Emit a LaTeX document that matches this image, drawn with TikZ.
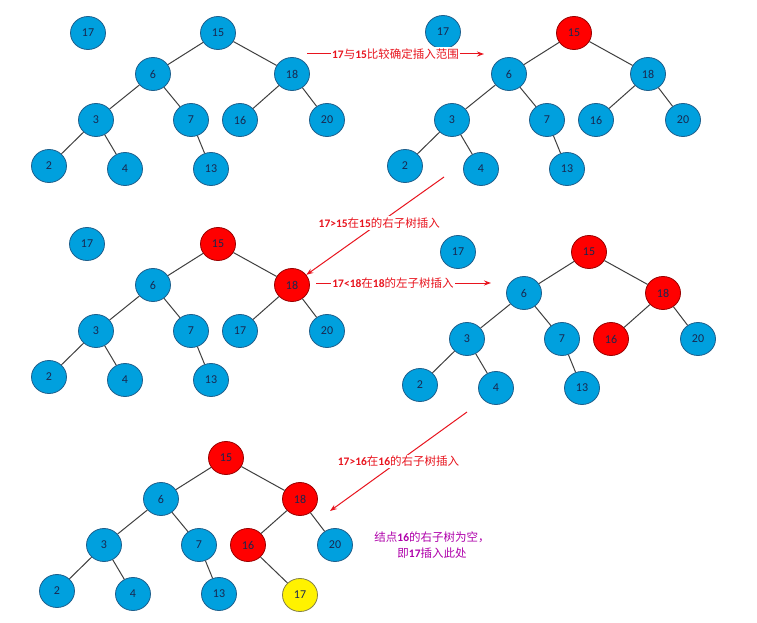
\documentclass[tikz,border=0pt]{standalone}
\usepackage{fontspec}
\setmainfont{Carlito}
\newfontfamily\carl{Carlito}
\newfontfamily\cjk{Noto Sans CJK SC}
\usetikzlibrary{shapes.geometric,arrows.meta}
\definecolor{nblue}{RGB}{0,160,222}
\definecolor{nborder}{RGB}{30,95,140}
\definecolor{ntext}{RGB}{25,40,80}
\definecolor{edgec}{RGB}{64,64,64}
\definecolor{lred}{RGB}{232,20,30}
\definecolor{lpurp}{RGB}{175,0,170}
\tikzset{
 nd/.style={ellipse, minimum width=35pt, minimum height=33pt, inner sep=0pt, draw=nborder, fill=nblue, line width=0.8pt, text=ntext, font=\carl\fontsize{12}{13}\selectfont},
 rd/.style={nd, fill=red, draw=red!60!black},
 yd/.style={nd, fill=yellow, draw=yellow!45!black},
 ed/.style={draw=edgec, line width=1pt},
 arr/.style={draw=lred, line width=1pt, -{Stealth[length=7pt,width=5pt]}},
 lab/.style={fill=white, text=lred, font=\cjk\fontsize{11.5}{13}\selectfont, inner sep=1.5pt},
}
\newcommand\bn[1]{{\carl\bfseries #1}}
\newcommand\bstree[7]{%
\begin{scope}[shift={(#2,#3)}]
\node[#4] (#1r) at (0,0) {15};
\node[nd] (#1six) at (-65,41) {6};
\node[#5] (#1eit) at (74,41) {18};
\node[nd] (#1thr) at (-122,87) {3};
\node[nd] (#1sev) at (-27,87) {7};
\node[#6] (#1sxt) at (22,87) {#7};
\node[nd] (#1twe) at (109,87) {20};
\node[nd] (#1two) at (-169,133) {2};
\node[nd] (#1fou) at (-93,136) {4};
\node[nd] (#1thi) at (-7,136) {13};
\draw[ed] (#1r) -- (#1six);
\draw[ed] (#1r) -- (#1eit);
\draw[ed] (#1six) -- (#1thr);
\draw[ed] (#1six) -- (#1sev);
\draw[ed] (#1eit) -- (#1sxt);
\draw[ed] (#1eit) -- (#1twe);
\draw[ed] (#1thr) -- (#1two);
\draw[ed] (#1thr) -- (#1fou);
\draw[ed] (#1sev) -- (#1thi);
\end{scope}}
\begin{document}
\begin{tikzpicture}[x=1pt,y=-1pt]
\useasboundingbox[fill=white] (0,0) rectangle (757,623);
% tree 1
\node[nd] (aone) at (88,33) {17};
\bstree{a}{218}{33}{nd}{nd}{nd}{16}
% tree 2
\node[nd] (bone) at (443,32) {17};
\bstree{b}{574}{33}{rd}{nd}{nd}{16}
% tree 3
\node[nd] (cone) at (87,244) {17};
\bstree{c}{218}{244}{rd}{rd}{nd}{17}
% tree 4
\node[nd] (done) at (458,252) {17};
\bstree{d}{589}{252}{rd}{rd}{rd}{16}
% tree 5
\bstree{e}{226}{458}{rd}{rd}{rd}{16}
\node[yd] (eyel) at (300,595) {17};
\draw[ed] (esxt) -- (eyel);
% arrows
\coordinate (s1) at (307,54);
\coordinate (t1) at (484,54);
\draw[arr] (s1) -- (t1) node[midway, lab] {\bn{17}与\bn{15}比较确定插入范围};
\coordinate (s2) at (444,177);
\draw[arr] (s2) -- (ceit) node[pos=0.47, lab] {\bn{17>15}在\bn{15}的右子树插入};
\coordinate (s3) at (316,283);
\coordinate (t3) at (491,283);
\draw[arr] (s3) -- (t3);
\node[lab] (l3) at (393,283) {\bn{17<18}在\bn{18}的左子树插入};
\coordinate (s4) at (467,412);
\coordinate (t4) at (330,511);
\draw[arr] (s4) -- (t4) node[midway, lab] {\bn{17>16}在\bn{16}的右子树插入};
\node[text=lpurp, font=\cjk\fontsize{11.5}{16}\selectfont, align=center] (note) at (432,545) {结点\bn{16}的右子树为空，\\即\bn{17}插入此处};
\end{tikzpicture}
\end{document}
